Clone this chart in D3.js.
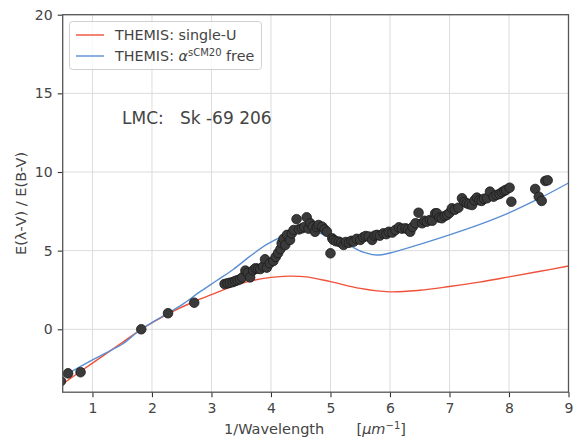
<!DOCTYPE html>
<html><head><meta charset="utf-8">
<script src="https://cdn.jsdelivr.net/npm/d3@7"></script>
<style>
body{margin:0;background:#fff;}
svg{font-family:"DejaVu Sans",sans-serif;}
</style></head>
<body><svg id="c" width="579" height="444"></svg>
<script>
// observed extinction data
const obsX = [0.47,0.59,0.80,1.82,2.27,2.71,
3.22,3.27,3.31,3.36,3.40,3.44,3.48,3.52,3.57,3.61,3.65,3.70,3.74,3.78,3.82,3.87,3.90,3.93,3.98,
4.04,4.08,4.12,4.16,4.18,4.21,4.24,4.27,4.32,4.35,4.38,4.43,4.47,4.52,4.56,4.60,4.63,4.66,4.70,4.74,4.77,4.80,4.86,4.90,4.94,
5.00,5.03,5.05,5.09,5.14,5.18,5.22,5.26,5.31,5.35,5.39,5.44,5.50,5.55,5.59,5.64,5.70,5.74,5.78,5.83,5.89,5.94,5.98,
6.04,6.09,6.15,6.20,6.26,6.30,6.34,6.38,6.43,6.48,6.54,6.58,6.62,6.67,6.71,6.76,6.79,6.83,6.87,6.92,6.96,
7.00,7.04,7.09,7.15,7.21,7.25,7.29,7.33,7.38,7.42,7.46,7.50,7.54,7.58,7.63,7.68,7.74,7.79,7.84,7.88,7.92,7.95,
8.01,8.04,8.44,8.50,8.55,8.61,8.65];
const obsY = [-3.3,-2.80,-2.73,0.0,1.02,1.69,
2.88,2.92,2.96,3.0,3.07,3.12,3.18,3.3,3.73,3.6,3.3,3.75,3.88,3.85,3.83,4.0,4.45,3.92,4.2,
4.34,4.6,4.85,5.1,5.47,5.75,5.36,6.0,5.68,6.1,6.31,7.0,6.35,6.42,6.5,7.12,6.4,6.74,6.55,6.2,6.5,6.63,6.52,6.35,6.2,
4.83,5.78,5.68,5.6,5.57,5.5,5.36,5.55,5.5,5.62,5.57,5.75,5.68,5.85,5.93,5.9,5.68,5.95,6.0,5.95,6.1,6.05,6.2,
6.15,6.31,6.48,6.4,6.42,6.35,6.2,6.5,6.74,7.41,6.74,6.9,6.84,6.95,6.9,7.37,7.37,7.1,7.06,7.2,7.27,
7.4,7.69,7.6,7.73,8.33,8.1,8.01,7.95,7.9,8.2,8.37,8.2,8.16,8.3,8.33,8.75,8.43,8.54,8.6,8.71,8.8,8.86,
9.0,8.11,8.92,8.43,8.16,9.43,9.47];

// model: THEMIS single-U
const singleUX = [0.45,1.0,1.5,1.82,2.28,2.7,3.0,3.5,4.0,4.3,4.6,5.0,5.5,6.0,6.5,7.0,7.5,8.0,8.5,9.0];
const singleUY = [-3.6,-2.15,-0.85,0.0,1.0,1.75,2.2,2.92,3.3,3.38,3.33,3.03,2.6,2.38,2.48,2.72,3.0,3.33,3.67,4.02];
// model: THEMIS alpha sCM20 free
const freeX = [0.45,1.0,1.3,1.5,1.82,2.28,2.5,2.81,3.09,3.37,3.65,3.93,4.2,4.49,4.72,4.94,5.1,5.33,5.55,5.78,6.0,6.5,7.0,7.5,8.0,8.5,9.0];
const freeY = [-3.1,-1.95,-1.35,-0.95,0.0,1.05,1.55,2.39,3.1,3.82,4.65,5.4,5.9,6.2,6.2,5.95,5.65,5.3,4.9,4.72,4.85,5.4,6.0,6.65,7.4,8.3,9.3];

const xTicks = [1,2,3,4,5,6,7,8,9];
const yTicks = [0,5,10,15,20];

const svg = d3.select("#c");
const L=62.7, R=568.5, T=14.7, B=392.2;
const x = d3.scaleLinear().domain([0.5,9]).range([L,R]);
const y = d3.scaleLinear().domain([-4,20]).range([B,T]);

// grid
const g = svg.append("g");
g.selectAll(".gx").data(xTicks).join("line")
  .attr("x1",d=>x(d)).attr("x2",d=>x(d)).attr("y1",T).attr("y2",B)
  .attr("stroke","#dcdcdc").attr("stroke-width",1);
g.selectAll(".gy").data(yTicks).join("line")
  .attr("y1",d=>y(d)).attr("y2",d=>y(d)).attr("x1",L).attr("x2",R)
  .attr("stroke","#dcdcdc").attr("stroke-width",1);

svg.append("defs").append("clipPath").attr("id","clip")
  .append("rect").attr("x",L).attr("y",T).attr("width",R-L).attr("height",B-T);

const plot = svg.append("g").attr("clip-path","url(#clip)");
const line = d3.line().curve(d3.curveCatmullRom.alpha(0.5));
plot.append("path").attr("d",line(singleUX.map((v,i)=>[x(v),y(singleUY[i])])))
  .attr("fill","none").attr("stroke","#f0513a").attr("stroke-width",1.4);
plot.append("path").attr("d",line(freeX.map((v,i)=>[x(v),y(freeY[i])])))
  .attr("fill","none").attr("stroke","#5b8fd4").attr("stroke-width",1.4);

plot.selectAll("circle").data(obsX.map((v,i)=>[v,obsY[i]])).join("circle")
  .attr("cx",d=>x(d[0])).attr("cy",d=>y(d[1])).attr("r",4.8)
  .attr("fill","#3a3a3a").attr("stroke","#1a1a1a").attr("stroke-width",0.8);

// axes
const xa = svg.append("g").attr("transform",`translate(0,${B})`)
  .call(d3.axisBottom(x).tickValues(xTicks).tickSize(5).tickPadding(6).tickFormat(d3.format("d")));
const ya = svg.append("g").attr("transform",`translate(${L},0)`)
  .call(d3.axisLeft(y).tickValues(yTicks).tickSize(5).tickPadding(5).tickFormat(d3.format("d")));
[xa,ya].forEach(a=>{
  a.select(".domain").remove();
  a.selectAll(".tick line").attr("stroke","#333").attr("stroke-width",1.1);
  a.selectAll(".tick text").attr("fill","#444").style("font-size","14px").style("font-family","DejaVu Sans");
});
// frame
svg.append("rect").attr("x",L).attr("y",T).attr("width",R-L).attr("height",B-T)
  .attr("fill","none").attr("stroke","#555").attr("stroke-width",1.3);

// labels
svg.append("text").attr("x",315).attr("y",434).attr("text-anchor","middle")
  .attr("fill","#444").style("font-size","14.5px")
  .html('1/Wavelength\u00a0\u00a0\u00a0\u00a0\u00a0\u00a0\u00a0[<tspan font-style="italic">μm</tspan><tspan dy="-5" font-size="10px">−1</tspan><tspan dy="5">]</tspan>');
svg.append("text").attr("transform",`translate(26,${(T+B)/2}) rotate(-90)`).attr("text-anchor","middle")
  .attr("fill","#444").style("font-size","14.5px").text("E(λ-V) / E(B-V)");

svg.append("text").attr("x",122).attr("y",124).attr("fill","#444").style("font-size","17px")
  .text("LMC:\u00a0\u00a0\u00a0Sk -69 206");

// legend
const lg = svg.append("g");
lg.append("rect").attr("x",69.5).attr("y",21.5).attr("width",192).attr("height",48).attr("rx",3)
  .attr("fill","white").attr("fill-opacity",0.8).attr("stroke","#d0d0d0");
lg.append("line").attr("x1",76).attr("x2",104).attr("y1",35).attr("y2",35).attr("stroke","#f0513a").attr("stroke-width",1.4);
lg.append("line").attr("x1",76).attr("x2",104).attr("y1",56).attr("y2",56).attr("stroke","#5b8fd4").attr("stroke-width",1.4);
lg.append("text").attr("x",115).attr("y",40).attr("fill","#444").style("font-size","14.3px").text("THEMIS: single-U");
lg.append("text").attr("x",115).attr("y",61).attr("fill","#444").style("font-size","14.3px")
  .html('THEMIS: <tspan font-style="italic">α</tspan><tspan dy="-5" font-size="10px">sCM20</tspan><tspan dy="5"> free</tspan>');
</script></body></html>
